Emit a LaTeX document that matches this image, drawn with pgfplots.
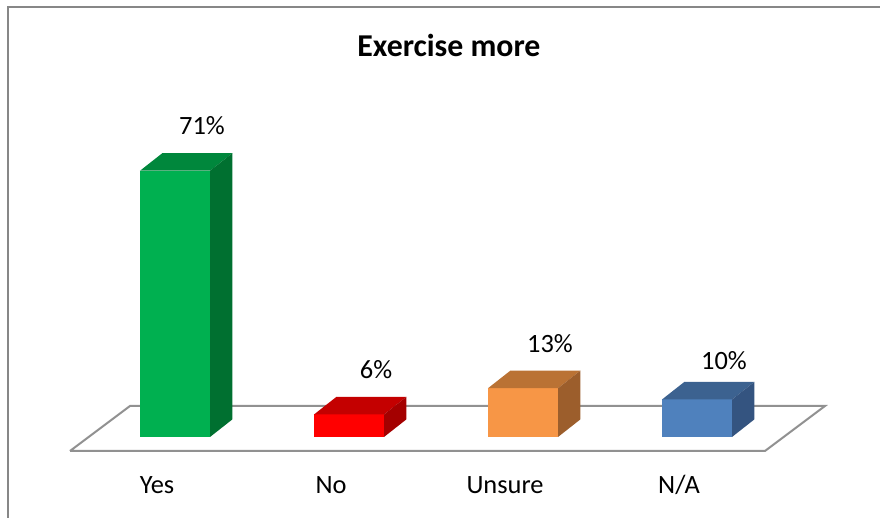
\documentclass[border=0pt]{standalone}
\usepackage{pgfplots}
\pgfplotsset{compat=1.18}
\usepackage{fontspec}
\setmainfont{Carlito}
\definecolor{gfront}{RGB}{0,176,80}
\definecolor{gtop}{RGB}{0,135,60}
\definecolor{gside}{RGB}{0,112,48}
\definecolor{rfront}{RGB}{255,0,0}
\definecolor{rtop}{RGB}{196,0,0}
\definecolor{rside}{RGB}{164,0,0}
\definecolor{ofront}{RGB}{247,150,70}
\definecolor{otop}{RGB}{186,114,52}
\definecolor{oside}{RGB}{156,94,44}
\definecolor{bfront}{RGB}{79,129,189}
\definecolor{btop}{RGB}{60,98,144}
\definecolor{bside}{RGB}{52,84,128}
\definecolor{linegray}{RGB}{145,145,145}
\definecolor{framegray}{RGB}{135,135,135}
\begin{document}
\begin{tikzpicture}
\begin{axis}[
  scale only axis, width=440pt, height=259pt,
  xmin=-1.00575, xmax=4.05172, ymin=-21.6, ymax=116.533,
  axis line style={draw=none}, ytick=\empty,
  xtick={-0.1034,0.8966,1.8966,2.8966},
  xticklabels={Yes,No,Unsure,N/A},
  major tick length=0pt,
  xticklabel style={anchor=base, yshift=12pt, font=\fontsize{13.2}{15}\selectfont},
  clip=false,
  /pgf/number format/assume math mode=true,
]
% floor
\addplot[draw=linegray, line width=1pt, fill=white] coordinates {(-0.6034,-3.733) (3.3908,-3.733) (3.7356,8.267) (-0.2586,8.267) (-0.6034,-3.733)};
% front faces
\addplot[ybar, bar width=0.4023, draw=none, fill=gfront,
  nodes near coords={\pgfmathprintnumber\pgfplotspointmeta\%},
  every node near coord/.append style={anchor=base, xshift=13.5pt, yshift=18pt, font=\fontsize{13.2}{15}\selectfont, text=black}]
  coordinates {(0,71)};
\addplot[ybar, bar width=0.4023, draw=none, fill=rfront,
  nodes near coords={\pgfmathprintnumber\pgfplotspointmeta\%},
  every node near coord/.append style={anchor=base, xshift=13.5pt, yshift=18pt, font=\fontsize{13.2}{15}\selectfont, text=black}]
  coordinates {(1,6)};
\addplot[ybar, bar width=0.4023, draw=none, fill=ofront,
  nodes near coords={\pgfmathprintnumber\pgfplotspointmeta\%},
  every node near coord/.append style={anchor=base, xshift=13.5pt, yshift=18pt, font=\fontsize{13.2}{15}\selectfont, text=black}]
  coordinates {(2,13)};
\addplot[ybar, bar width=0.4023, draw=none, fill=bfront,
  nodes near coords={\pgfmathprintnumber\pgfplotspointmeta\%},
  every node near coord/.append style={anchor=base, xshift=13.5pt, yshift=15pt, font=\fontsize{13.2}{15}\selectfont, text=black}]
  coordinates {(3,10)};
% top faces
\addplot[draw=none, fill=gtop] coordinates {(-0.2012,71) (-0.0718,75.72) (0.3304,75.72) (0.2012,71) (-0.2012,71)};
\addplot[draw=none, fill=rtop] coordinates {(0.7988,6) (0.9281,10.72) (1.3304,10.72) (1.2012,6) (0.7988,6)};
\addplot[draw=none, fill=otop] coordinates {(1.7988,13) (1.9281,17.72) (2.3304,17.72) (2.2012,13) (1.7988,13)};
\addplot[draw=none, fill=btop] coordinates {(2.7988,10) (2.9281,14.72) (3.3304,14.72) (3.2012,10) (2.7988,10)};
% side faces
\addplot[draw=none, fill=gside] coordinates {(0.2012,0) (0.3304,4.72) (0.3304,75.72) (0.2012,71) (0.2012,0)};
\addplot[draw=none, fill=rside] coordinates {(1.2012,0) (1.3304,4.72) (1.3304,10.72) (1.2012,6) (1.2012,0)};
\addplot[draw=none, fill=oside] coordinates {(2.2012,0) (2.3304,4.72) (2.3304,17.72) (2.2012,13) (2.2012,0)};
\addplot[draw=none, fill=bside] coordinates {(3.2012,0) (3.3304,4.72) (3.3304,14.72) (3.2012,10) (3.2012,0)};
\node[anchor=base, font=\bfseries\fontsize{15.9}{18}\selectfont] at (axis cs:1.5747,101.41) {Exercise more};
\end{axis}
\draw[framegray, line width=1pt] (3.75pt,0pt) -- (3.75pt,255.5pt) -- (440pt,255.5pt);
\pgfresetboundingbox
\path (0,0) rectangle (440pt,259pt);
\end{tikzpicture}
\end{document}
